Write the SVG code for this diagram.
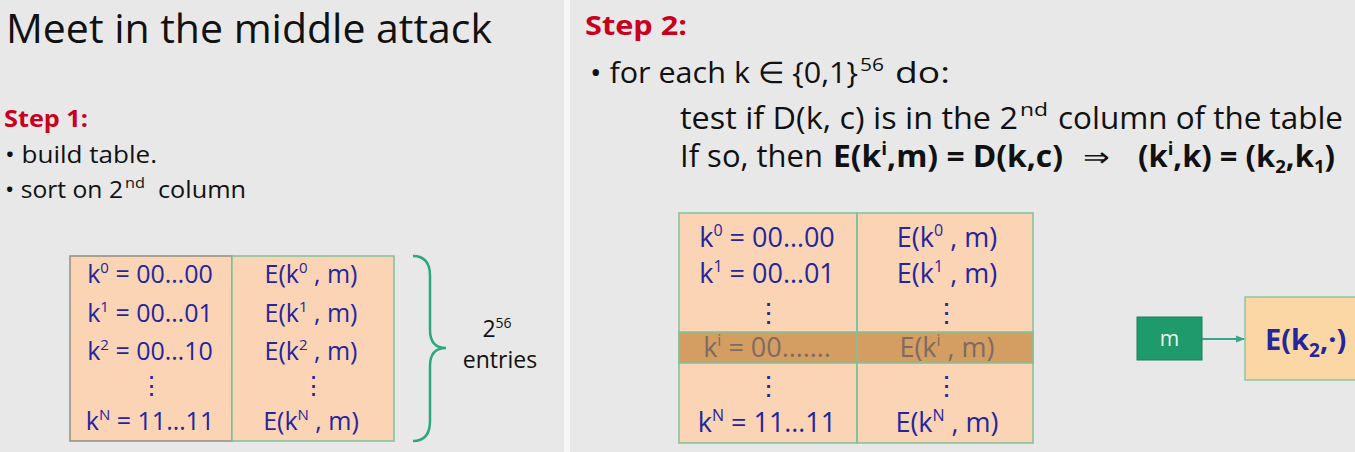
<svg xmlns="http://www.w3.org/2000/svg" width="1355" height="452" viewBox="0 0 1355 452">
<defs>
<style>
.t{font-family:"Open Sans",Lato,"Liberation Sans",sans-serif;fill:#111}
.red{font-family:"Open Sans","Liberation Sans",sans-serif;font-weight:bold;fill:#c8001e}
.cell{font-family:"Open Sans","Liberation Sans",sans-serif;fill:#25259c;font-size:25px}
.c2{font-size:27px}
.dim{fill:#7e6b63}
.b{font-weight:bold}
.tbl{fill:#fad4b4}
</style>
<marker id="ah" viewBox="0 0 10 10" refX="9" refY="5" markerWidth="5" markerHeight="5" orient="auto">
<path d="M0,1 L10,5 L0,9 z" fill="#3aa58a"/>
</marker>
</defs>
<rect x="0" y="0" width="1355" height="452" fill="#e8e8e8"/>
<rect x="564" y="0" width="6" height="452" fill="#f7f7f7"/>

<g id="title">
<text class="t" x="6" y="43" font-size="41" textLength="486" lengthAdjust="spacingAndGlyphs">Meet in the middle attack</text>
</g>

<g id="step1">
<text class="red" x="4" y="127" font-size="24" textLength="84" lengthAdjust="spacingAndGlyphs">Step 1:</text>
<text class="t" x="5" y="163" font-size="23" textLength="152" lengthAdjust="spacingAndGlyphs">• build table.</text>
<text class="t" x="5" y="198" font-size="23" textLength="118" lengthAdjust="spacingAndGlyphs">• sort on 2</text>
<text class="t" x="125" y="188" font-size="14" textLength="20" lengthAdjust="spacingAndGlyphs">nd</text>
<text class="t" x="158" y="198" font-size="23" textLength="88" lengthAdjust="spacingAndGlyphs">column</text>
</g>

<g id="table1">
<rect class="tbl" x="70" y="256" width="162" height="185" stroke="#8e8e80" stroke-width="1.5"/>
<rect class="tbl" x="232" y="256" width="162" height="185" stroke="#7cc29a" stroke-width="1.5"/>
<text class="cell" x="150" y="283" text-anchor="middle">k<tspan font-size="15" dy="-10">0</tspan><tspan dy="10"> = 00…00</tspan></text>
<text class="cell" x="150" y="322" text-anchor="middle">k<tspan font-size="15" dy="-10">1</tspan><tspan dy="10"> = 00…01</tspan></text>
<text class="cell" x="150" y="360" text-anchor="middle">k<tspan font-size="15" dy="-10">2</tspan><tspan dy="10"> = 00…10</tspan></text>
<text class="cell" x="151" y="394" text-anchor="middle">⋮</text>
<text class="cell" x="150" y="430" text-anchor="middle">k<tspan font-size="15" dy="-10">N</tspan><tspan dy="10"> = 11…11</tspan></text>
<text class="cell" x="311" y="283" text-anchor="middle">E(k<tspan font-size="15" dy="-10">0</tspan><tspan dy="10"> , m)</tspan></text>
<text class="cell" x="311" y="322" text-anchor="middle">E(k<tspan font-size="15" dy="-10">1</tspan><tspan dy="10"> , m)</tspan></text>
<text class="cell" x="311" y="360" text-anchor="middle">E(k<tspan font-size="15" dy="-10">2</tspan><tspan dy="10"> , m)</tspan></text>
<text class="cell" x="313" y="394" text-anchor="middle">⋮</text>
<text class="cell" x="311" y="430" text-anchor="middle">E(k<tspan font-size="15" dy="-10">N</tspan><tspan dy="10"> , m)</tspan></text>
</g>

<g id="brace">
<path d="M413,256 Q430,256 430,276 L430,330 Q430,348 446,348 Q430,348 430,366 L430,421 Q430,441 413,441" fill="none" stroke="#2ba87c" stroke-width="2.5"/>
<text class="t" x="497" y="337" font-size="23" text-anchor="middle">2<tspan font-size="14" dy="-9">56</tspan></text>
<text class="t" x="500" y="368" font-size="23" text-anchor="middle">entries</text>
</g>

<g id="step2">
<text class="red" x="585" y="35" font-size="26" textLength="102" lengthAdjust="spacingAndGlyphs">Step 2:</text>
<text class="t" x="590" y="83" font-size="30" textLength="268" lengthAdjust="spacingAndGlyphs">• for each k ∈ {0,1}</text>
<text class="t" x="860" y="71" font-size="18" textLength="24" lengthAdjust="spacingAndGlyphs">56</text>
<text class="t" x="895" y="83" font-size="30" textLength="55" lengthAdjust="spacingAndGlyphs">do:</text>
<text class="t" x="680" y="129" font-size="31" textLength="338" lengthAdjust="spacingAndGlyphs">test if  D(k, c) is in the 2</text>
<text class="t" x="1020" y="116" font-size="18" textLength="28" lengthAdjust="spacingAndGlyphs">nd</text>
<text class="t" x="1058" y="129" font-size="31" textLength="285" lengthAdjust="spacingAndGlyphs">column of the table</text>
<text class="t" x="680" y="167" font-size="31" textLength="143" lengthAdjust="spacingAndGlyphs">If so, then</text>
<text class="t b" x="833" y="167" font-size="30" textLength="230" lengthAdjust="spacingAndGlyphs">E(k<tspan font-size="18" dy="-12">i</tspan><tspan dy="12">,m) = D(k,c)</tspan></text>
<text class="t" x="1083" y="166" font-size="26" textLength="27" lengthAdjust="spacingAndGlyphs">⇒</text>
<text class="t b" x="1138" y="167" font-size="30" textLength="197" lengthAdjust="spacingAndGlyphs">(k<tspan font-size="18" dy="-12">i</tspan><tspan dy="12">,k) = (k</tspan><tspan font-size="18" dy="6">2</tspan><tspan dy="-6">,k</tspan><tspan font-size="18" dy="6">1</tspan><tspan dy="-6">)</tspan></text>
</g>

<g id="table2">
<rect class="tbl" x="679" y="213" width="178" height="230" stroke="#7cc29a" stroke-width="1.5"/>
<rect class="tbl" x="857" y="213" width="176" height="230" stroke="#7cc29a" stroke-width="1.5"/>
<rect x="679" y="332" width="354" height="31" fill="#d49d62" stroke="#7cc29a" stroke-width="1.5"/>
<line x1="857" y1="213" x2="857" y2="443" stroke="#7cc29a" stroke-width="1.5"/>
<text class="cell c2" x="767" y="247" text-anchor="middle">k<tspan font-size="16" dy="-11">0</tspan><tspan dy="11"> = 00…00</tspan></text>
<text class="cell c2" x="767" y="283" text-anchor="middle">k<tspan font-size="16" dy="-11">1</tspan><tspan dy="11"> = 00…01</tspan></text>
<text class="cell c2" x="768" y="322" text-anchor="middle">⋮</text>
<text class="cell c2 dim" x="767" y="357" text-anchor="middle">k<tspan font-size="16" dy="-11">i</tspan><tspan dy="11">  = 00…….</tspan></text>
<text class="cell c2" x="768" y="395" text-anchor="middle">⋮</text>
<text class="cell c2" x="767" y="432" text-anchor="middle">k<tspan font-size="16" dy="-11">N</tspan><tspan dy="11"> = 11…11</tspan></text>
<text class="cell c2" x="947" y="247" text-anchor="middle">E(k<tspan font-size="16" dy="-11">0</tspan><tspan dy="11"> , m)</tspan></text>
<text class="cell c2" x="947" y="283" text-anchor="middle">E(k<tspan font-size="16" dy="-11">1</tspan><tspan dy="11"> , m)</tspan></text>
<text class="cell c2" x="946" y="322" text-anchor="middle">⋮</text>
<text class="cell c2 dim" x="947" y="357" text-anchor="middle">E(k<tspan font-size="16" dy="-11">i</tspan><tspan dy="11"> , m)</tspan></text>
<text class="cell c2" x="946" y="395" text-anchor="middle">⋮</text>
<text class="cell c2" x="947" y="432" text-anchor="middle">E(k<tspan font-size="16" dy="-11">N</tspan><tspan dy="11"> , m)</tspan></text>
</g>

<g id="connectors">
<line x1="1202" y1="339" x2="1244" y2="339" stroke="#3aa58a" stroke-width="1.8" marker-end="url(#ah)"/>
</g>

<g id="node-m">
<rect x="1137" y="317" width="65" height="43" fill="#1f9a6c" stroke="#178058" stroke-width="1"/>
<text x="1169.5" y="346" text-anchor="middle" font-family="'Open Sans','Liberation Sans',sans-serif" font-size="21" fill="#e9f5ee">m</text>
</g>

<g id="node-E">
<rect x="1245" y="297" width="120" height="83" fill="#fcd7a6" stroke="#8cc6a0" stroke-width="1.5"/>
<text x="1265" y="350" font-family="'Open Sans','Liberation Sans',sans-serif" font-size="29" font-weight="bold" fill="#25259c">E(k<tspan font-size="19" dy="7">2</tspan><tspan dy="-7">,·)</tspan></text>
</g>
</svg>
